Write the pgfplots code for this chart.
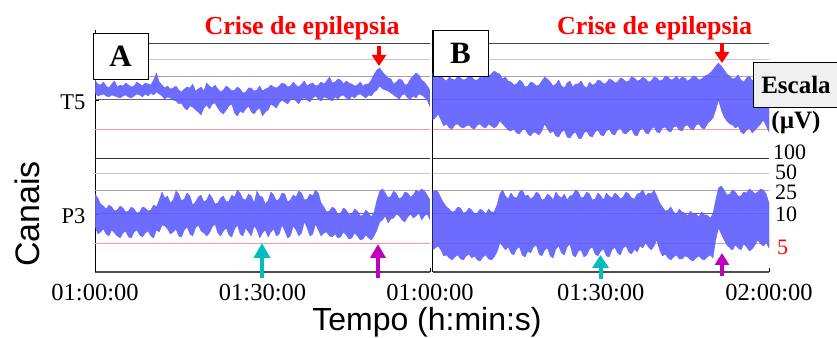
\documentclass[border=0pt]{standalone}
\usepackage{fontspec}
\setmainfont{Liberation Serif}
\newfontfamily\arialf{Liberation Sans}
\usepackage{pgfplots}
\pgfplotsset{compat=1.18}
\usetikzlibrary{arrows.meta}

\definecolor{sig}{RGB}{95,95,255}
\definecolor{g100}{RGB}{70,70,70}
\definecolor{g50}{RGB}{200,200,200}
\definecolor{g25}{RGB}{165,165,165}
\definecolor{g10}{RGB}{105,105,105}
\definecolor{r5}{RGB}{255,150,150}
\definecolor{cyanA}{RGB}{0,190,190}
\definecolor{magA}{RGB}{190,0,190}
\definecolor{escbg}{RGB}{240,240,240}

\newcommand\gridlines{%
\addplot[g100,line width=1pt] coordinates {(60,43.5) (120,43.5)};
\addplot[g50,line width=1pt] coordinates {(60,60) (120,60)};
\addplot[g25,line width=1pt] coordinates {(60,76.5) (120,76.5)};
\addplot[g10,line width=1pt] coordinates {(60,100) (120,100)};
\addplot[r5,line width=0.8pt] coordinates {(60,129) (120,129)};
\addplot[black!80,line width=0.9pt] coordinates {(60,158) (120,158)};
\addplot[g50,line width=1pt] coordinates {(60,174) (120,174)};
\addplot[g25,line width=1pt] coordinates {(60,190.7) (120,190.7)};
\addplot[g10,line width=1pt] coordinates {(60,214) (120,214)};
\addplot[r5,line width=0.8pt] coordinates {(60,243) (120,243)};
}

\pgfplotsset{panel/.style={
  scale only axis, height=242pt,
  xmin=60, xmax=120, ymin=-272, ymax=-30,
  y filter/.expression={-y},
  axis x line*=bottom, axis y line*=left,
  axis line style={-, black, line width=1pt},
  x axis line style={-, line width=1.6pt, draw=black!70},
  tick align=inside, major tick length=4pt,
  tick style={black, line width=0.8pt},
  xticklabel style={font=\fontsize{24.5}{28}\selectfont, yshift=-9pt},
  yticklabel style={font=\fontsize{22.5}{26}\selectfont, xshift=-6pt, yshift=-2.5pt},
},
band/.style={fill=sig, draw=sig, line width=0.3pt, fill opacity=0.92}}

\begin{document}
\begin{tikzpicture}
\path[use as bounding box] (0pt,0pt) rectangle (837pt,337pt);

\begin{axis}[panel, width=335pt, at={(95pt,65pt)}, anchor=south west,
  xtick={60,90,120}, xticklabels={01:00:00,01:30:00,01:00:00},
  ytick={-100,-214}, yticklabels={T5,P3},
  extra y ticks={-158}, extra y tick labels={}]
\gridlines
% T5 (A): upper envelope forward, lower envelope backward
\addplot[band] coordinates {
(60,80) (60.5,84) (61,85) (61.5,82) (62,86) (62.5,88) (63,84) (63.5,81) (64,87) (64.5,85) (65,86) (65.5,83) (66,85) (66.5,87) (67,86) (67.5,82) (68,84) (68.5,86) (69,83) (69.5,84) (70,85) (70.5,80) (71,73) (71.5,82) (72,85) (72.5,88) (73,86) (73.5,89) (74,88) (74.5,86) (75,90) (75.5,92) (76,89) (76.5,87) (77,88) (77.5,84) (78,91) (78.5,89) (79,87) (79.5,91) (80,83) (80.5,86) (81,88) (81.5,85) (82,89) (82.5,92) (83,90) (83.5,86) (84,88) (84.5,91) (85,90) (85.5,87) (86,89) (86.5,93) (87,92) (87.5,88) (88,88) (88.5,91) (89,90) (89.5,86) (90,91) (90.5,89) (91,88) (91.5,85) (92,87) (92.5,88) (93,86) (93.5,83) (94,84) (94.5,87) (95,86) (95.5,82) (96,85) (96.5,87) (97,84) (97.5,81) (98,86) (98.5,84) (99,83) (99.5,86) (100,85) (100.5,82) (101,84) (101.5,81) (102,77) (102.5,83) (103,82) (103.5,79) (104,80) (104.5,84) (105,81) (105.5,83) (106,84) (106.5,86) (107,85) (107.5,82) (108,86) (108.5,84) (109,84) (109.5,80) (110,74) (110.5,70) (111,68) (111.5,72) (112,75) (112.5,78) (113,79) (113.5,84) (114,82) (114.5,79) (115,80) (115.5,85) (116,84) (116.5,79) (117,76) (117.5,73) (118,75) (118.5,80) (119,82) (119.5,86) (120,90)
(120,107) (119.5,100) (119,97) (118.5,95) (118,94) (117.5,98) (117,96) (116.5,99) (116,98) (115.5,94) (115,95) (114.5,99) (114,97) (113.5,95) (113,93) (112.5,91) (112,90) (111.5,89) (111,86) (110.5,90) (110,92) (109.5,96) (109,95) (108.5,98) (108,96) (107.5,94) (107,95) (106.5,98) (106,96) (105.5,100) (105,98) (104.5,95) (104,96) (103.5,99) (103,97) (102.5,101) (102,99) (101.5,98) (101,97) (100.5,101) (100,99) (99.5,96) (99,98) (98.5,102) (98,100) (97.5,98) (97,99) (96.5,104) (96,101) (95.5,99) (95,100) (94.5,104) (94,102) (93.5,100) (93,103) (92.5,108) (92,106) (91.5,104) (91,110) (90.5,112) (90,116) (89.5,108) (89,110) (88.5,114) (88,112) (87.5,106) (87,109) (86.5,113) (86,111) (85.5,116) (85,113) (84.5,104) (84,106) (83.5,110) (83,114) (82.5,112) (82,108) (81.5,103) (81,104) (80.5,109) (80,105) (79.5,108) (79,115) (78.5,112) (78,110) (77.5,107) (77,106) (76.5,110) (76,108) (75.5,103) (75,104) (74.5,101) (74,100) (73.5,98) (73,97) (72.5,99) (72,96) (71.5,94) (71,92) (70.5,95) (70,93) (69.5,96) (69,94) (68.5,97) (68,95) (67.5,94) (67,96) (66.5,98) (66,97) (65.5,95) (65,96) (64.5,98) (64,97) (63.5,96) (63,95) (62.5,97) (62,96) (61.5,94) (61,95) (60.5,96) (60,93)
} -- cycle;
% P3 (A)
\addplot[band] coordinates {
(60,194) (60.5,198) (61,204) (61.5,206) (62,209) (62.5,205) (63,207) (63.5,211) (64,210) (64.5,206) (65,208) (65.5,212) (66,211) (66.5,207) (67,209) (67.5,213) (68,212) (68.5,207) (69,208) (69.5,211) (70,210) (70.5,205) (71,207) (71.5,200) (72,192) (72.5,198) (73,196) (73.5,203) (74,200) (74.5,191) (75,194) (75.5,201) (76,199) (76.5,193) (77,196) (77.5,205) (78,202) (78.5,197) (79,195) (79.5,202) (80,200) (80.5,194) (81,198) (81.5,204) (82,203) (82.5,198) (83,196) (83.5,202) (84,201) (84.5,195) (85,197) (85.5,190) (86,193) (86.5,199) (87,200) (87.5,194) (88,196) (88.5,203) (89,191) (89.5,196) (90,197) (90.5,204) (91,201) (91.5,192) (92,195) (92.5,201) (93,199) (93.5,193) (94,194) (94.5,202) (95,200) (95.5,195) (96,197) (96.5,191) (97,193) (97.5,200) (98,199) (98.5,194) (99,196) (99.5,190) (100,193) (100.5,203) (101,207) (101.5,212) (102,211) (102.5,207) (103,209) (103.5,214) (104,213) (104.5,208) (105,210) (105.5,215) (106,214) (106.5,209) (107,211) (107.5,216) (108,215) (108.5,210) (109,213) (109.5,217) (110,212) (110.5,200) (111,191) (111.5,189) (112,193) (112.5,198) (113,196) (113.5,191) (114,194) (114.5,199) (115,197) (115.5,192) (116,193) (116.5,197) (117,195) (117.5,190) (118,192) (118.5,189) (119,191) (119.5,195) (120,200)
(120,220) (119.5,214) (119,216) (118.5,220) (118,213) (117.5,216) (117,218) (116.5,214) (116,217) (115.5,222) (115,220) (114.5,216) (114,214) (113.5,218) (113,219) (112.5,223) (112,216) (111.5,220) (111,222) (110.5,230) (110,236) (109.5,240) (109,238) (108.5,235) (108,239) (107.5,240) (107,236) (106.5,233) (106,238) (105.5,239) (105,235) (104.5,232) (104,237) (103.5,238) (103,234) (102.5,237) (102,236) (101.5,232) (101,233) (100.5,236) (100,230) (99.5,224) (99,234) (98.5,236) (98,228) (97.5,222) (97,233) (96.5,236) (96,230) (95.5,226) (95,236) (94.5,238) (94,231) (93.5,225) (93,234) (92.5,236) (92,229) (91.5,232) (91,237) (90.5,230) (90,233) (89.5,238) (89,230) (88.5,226) (88,236) (87.5,232) (87,228) (86.5,236) (86,234) (85.5,225) (85,229) (84.5,237) (84,235) (83.5,228) (83,231) (82.5,236) (82,233) (81.5,224) (81,227) (80.5,233) (80,236) (79.5,233) (79,231) (78.5,225) (78,228) (77.5,236) (77,234) (76.5,227) (76,230) (75.5,237) (75,236) (74.5,229) (74,232) (73.5,234) (73,229) (72.5,226) (72,225) (71.5,232) (71,230) (70.5,238) (70,236) (69.5,231) (69,233) (68.5,237) (68,235) (67.5,230) (67,232) (66.5,238) (66,237) (65.5,231) (65,233) (64.5,238) (64,236) (63.5,233) (63,230) (62.5,236) (62,234) (61.5,229) (61,232) (60.5,234) (60,226)
} -- cycle;
\end{axis}

\begin{axis}[panel, width=336.5pt, at={(432.5pt,65pt)}, anchor=south west,
  xtick={60,90,120}, xticklabels={,01:30:00,02:00:00},
  ytick={-158}, yticklabels={}]
\gridlines
% T5 (B)
\addplot[band] coordinates {
(60,73) (60.5,76) (61,78) (61.5,75) (62,79) (62.5,81) (63,77) (63.5,79) (64,80) (64.5,76) (65,78) (65.5,80) (66,79) (66.5,75) (67,77) (67.5,80) (68,80) (68.5,77) (69,78) (69.5,75) (70,76) (70.5,74) (71,71) (71.5,73) (72,74) (72.5,79) (73,77) (73.5,81) (74,82) (74.5,85) (75,84) (75.5,80) (76,82) (76.5,87) (77,86) (77.5,82) (78,83) (78.5,86) (79,85) (79.5,81) (80,77) (80.5,79) (81,82) (81.5,86) (82,84) (82.5,80) (83,86) (83.5,88) (84,83) (84.5,81) (85,87) (85.5,84) (86,84) (86.5,81) (87,86) (87.5,88) (88,82) (88.5,85) (89,84) (89.5,80) (90,81) (90.5,84) (91,83) (91.5,79) (92,80) (92.5,83) (93,82) (93.5,78) (94,79) (94.5,82) (95,81) (95.5,77) (96,78) (96.5,81) (97,80) (97.5,77) (98,79) (98.5,82) (99,81) (99.5,77) (100,78) (100.5,81) (101,80) (101.5,76) (102,77) (102.5,80) (103,79) (103.5,76) (104,80) (104.5,77) (105,78) (105.5,81) (106,79) (106.5,76) (107,77) (107.5,80) (108,79) (108.5,76) (109,75) (109.5,73) (110,70) (110.5,66) (111,63) (111.5,66) (112,70) (112.5,74) (113,76) (113.5,79) (114,78) (114.5,75) (115,80) (115.5,82) (116,78) (116.5,76) (117,81) (117.5,78) (118,79) (118.5,82) (119,82) (119.5,79) (120,84)
(120,132) (119.5,126) (119,120) (118.5,124) (118,127) (117.5,130) (117,133) (116.5,128) (116,130) (115.5,134) (115,132) (114.5,126) (114,128) (113.5,125) (113,124) (112.5,121) (112,117) (111.5,110) (111,100) (110.5,110) (110,118) (109.5,121) (109,124) (108.5,129) (108,128) (107.5,124) (107,125) (106.5,130) (106,129) (105.5,125) (105,126) (104.5,131) (104,130) (103.5,126) (103,127) (102.5,132) (102,131) (101.5,127) (101,128) (100.5,133) (100,132) (99.5,127) (99,129) (98.5,134) (98,133) (97.5,128) (97,130) (96.5,136) (96,135) (95.5,129) (95,131) (94.5,134) (94,133) (93.5,128) (93,130) (92.5,135) (92,134) (91.5,129) (91,131) (90.5,136) (90,135) (89.5,130) (89,132) (88.5,137) (88,136) (87.5,131) (87,133) (86.5,139) (86,138) (85.5,132) (85,134) (84.5,138) (84,137) (83.5,130) (83,132) (82.5,137) (82,136) (81.5,131) (81,133) (80.5,129) (80,124) (79.5,131) (79,135) (78.5,133) (78,132) (77.5,136) (77,134) (76.5,129) (76,130) (75.5,134) (75,133) (74.5,129) (74,131) (73.5,130) (73,127) (72.5,124) (72,121) (71.5,126) (71,128) (70.5,126) (70,124) (69.5,128) (69,127) (68.5,124) (68,125) (67.5,129) (67,128) (66.5,125) (66,126) (65.5,128) (65,127) (64.5,124) (64,125) (63.5,129) (63,128) (62.5,124) (62,126) (61.5,120) (61,114) (60.5,118) (60,120)
} -- cycle;
% P3 (B)
\addplot[band] coordinates {
(60,193) (60.5,190) (61,192) (61.5,198) (62,203) (62.5,207) (63,209) (63.5,212) (64,211) (64.5,207) (65,208) (65.5,213) (66,212) (66.5,208) (67,210) (67.5,214) (68,213) (68.5,209) (69,211) (69.5,214) (70,209) (70.5,212) (71,212) (71.5,205) (72,194) (72.5,190) (73,196) (73.5,199) (74,193) (74.5,197) (75,198) (75.5,192) (76,190) (76.5,196) (77,195) (77.5,199) (78,197) (78.5,192) (79,194) (79.5,200) (80,199) (80.5,194) (81,196) (81.5,200) (82,192) (82.5,196) (83,198) (83.5,194) (84,200) (84.5,196) (85,195) (85.5,190) (86,192) (86.5,198) (87,197) (87.5,192) (88,194) (88.5,200) (89,199) (89.5,193) (90,196) (90.5,200) (91,193) (91.5,196) (92,198) (92.5,193) (93,195) (93.5,199) (94,197) (94.5,192) (95,194) (95.5,198) (96,199) (96.5,194) (97,193) (97.5,190) (98,196) (98.5,193) (99,194) (99.5,190) (100,196) (100.5,203) (101,207) (101.5,211) (102,210) (102.5,207) (103,212) (103.5,214) (104,209) (104.5,212) (105,213) (105.5,216) (106,211) (106.5,214) (107,214) (107.5,217) (108,212) (108.5,215) (109,215) (109.5,218) (110,214) (110.5,200) (111,188) (111.5,186) (112,190) (112.5,195) (113,194) (113.5,190) (114,192) (114.5,196) (115,196) (115.5,192) (116,193) (116.5,189) (117,191) (117.5,194) (118,192) (118.5,189) (119,190) (119.5,194) (120,203)
(120,248) (119.5,243) (119,246) (118.5,244) (118,240) (117.5,245) (117,249) (116.5,251) (116,247) (115.5,244) (115,250) (114.5,248) (114,245) (113.5,250) (113,248) (112.5,245) (112,240) (111.5,234) (111,228) (110.5,240) (110,258) (109.5,255) (109,257) (108.5,260) (108,259) (107.5,256) (107,258) (106.5,261) (106,260) (105.5,257) (105,256) (104.5,259) (104,259) (103.5,255) (103,257) (102.5,260) (102,258) (101.5,254) (101,256) (100.5,250) (100,240) (99.5,246) (99,250) (98.5,247) (98,243) (97.5,248) (97,246) (96.5,252) (96,249) (95.5,254) (95,252) (94.5,246) (94,248) (93.5,255) (93,253) (92.5,247) (92,250) (91.5,257) (91,256) (90.5,249) (90,251) (89.5,256) (89,254) (88.5,247) (88,249) (87.5,255) (87,257) (86.5,250) (86,251) (85.5,257) (85,255) (84.5,244) (84,247) (83.5,255) (83,253) (82.5,246) (82,249) (81.5,258) (81,256) (80.5,248) (80,250) (79.5,256) (79,254) (78.5,245) (78,247) (77.5,253) (77,251) (76.5,257) (76,255) (75.5,247) (75,249) (74.5,255) (74,253) (73.5,247) (73,250) (72.5,246) (72,243) (71.5,252) (71,257) (70.5,260) (70,259) (69.5,255) (69,257) (68.5,261) (68,260) (67.5,256) (67,258) (66.5,254) (66,256) (65.5,260) (65,259) (64.5,255) (64,257) (63.5,260) (63,258) (62.5,255) (62,256) (61.5,250) (61,246) (60.5,248) (60,250)
} -- cycle;
\end{axis}

% panel boxes
\draw[black, line width=0.8pt, fill=white] (93pt,304pt) rectangle (148pt,258pt);
\node[font=\bfseries\fontsize{31}{36}\selectfont] at (120.5pt,281pt) {A};
\draw[black, line width=0.8pt, fill=white] (433pt,307pt) rectangle (488pt,261pt);
\node[font=\bfseries\fontsize{31}{36}\selectfont] at (460.5pt,284pt) {B};

% titles
\node[anchor=base, text=red, font=\bfseries\fontsize{26}{30}\selectfont] at (302pt,302pt) {Crise de epilepsia};
\node[anchor=base, text=red, font=\bfseries\fontsize{26}{30}\selectfont] at (654.5pt,302pt) {Crise de epilepsia};

% scale
\draw[black, line width=0.8pt, fill=escbg] (753pt,275pt) rectangle (845pt,230pt);
\node[font=\bfseries\fontsize{25}{30}\selectfont] at (796pt,252pt) {Escala};
\node[font=\bfseries\fontsize{25}{30}\selectfont] at (796pt,215pt) {(µV)};
\begin{scope}[font=\fontsize{22}{26}\selectfont]
\node[anchor=west, inner sep=0pt] at (773pt,185pt) {100};
\node[anchor=west, inner sep=0pt] at (775pt,164.5pt) {50};
\node[anchor=west, inner sep=0pt] at (775pt,144.5pt) {25};
\node[anchor=west, inner sep=0pt] at (775pt,123pt) {10};
\node[anchor=west, inner sep=0pt, text=red] at (777pt,90pt) {5};
\end{scope}

% axis titles
\node[rotate=90, font=\arialf\fontsize{34}{40}\selectfont] at (27.5pt,123pt) {Canais};
\node[anchor=base, font=\arialf\fontsize{32}{38}\selectfont] at (427pt,7pt) {Tempo (h:min:s)};

% arrows
\draw[red, line width=3.5pt, -{Triangle[width=14pt,length=11pt]}] (379pt,291pt) -- (379pt,271pt);
\draw[red, line width=3.5pt, -{Triangle[width=14pt,length=11pt]}] (722pt,294pt) -- (722pt,274pt);
\draw[cyanA, line width=4pt, -{Triangle[width=16pt,length=15pt]}] (262pt,59pt) -- (262pt,94pt);
\draw[magA, line width=4pt, -{Triangle[width=15pt,length=14pt]}] (378pt,59pt) -- (378pt,93pt);
\draw[cyanA, line width=4pt, -{Triangle[width=16pt,length=13pt]}] (600.5pt,58pt) -- (600.5pt,82pt);
\draw[magA, line width=4pt, -{Triangle[width=14pt,length=12pt]}] (722pt,61pt) -- (722pt,84pt);
\end{tikzpicture}
\end{document}
